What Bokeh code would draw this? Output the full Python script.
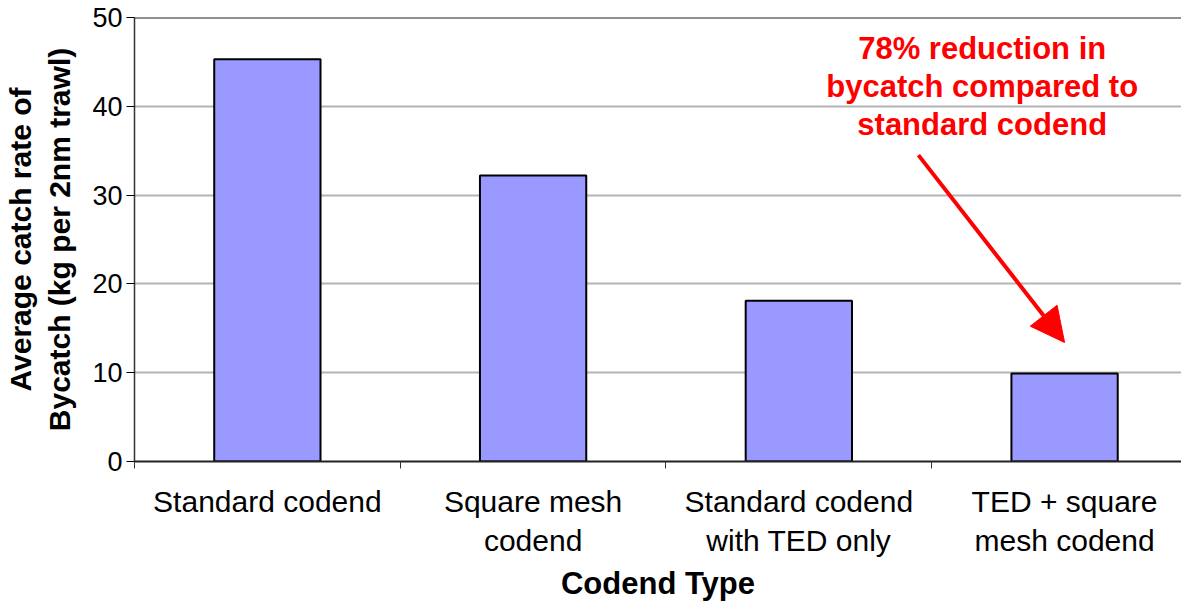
from bokeh.plotting import figure
from bokeh.models import Range1d, FixedTicker, Span, Arrow, NormalHead, ColumnDataSource
from bokeh.core.properties import value
from bokeh.embed import file_html
from bokeh.resources import INLINE

categories = ["Standard codend", "Square mesh\ncodend", "Standard codend\nwith TED only", "TED + square\nmesh codend"]
bycatch = [45.3, 32.2, 18.1, 9.9]
y_ticks = [0, 10, 20, 30, 40, 50]
note_lines = ["78% reduction in", "bycatch compared to", "standard codend"]

FONT = "Liberation Sans"

p = figure(width=1181, height=604, output_backend="svg", toolbar_location=None,
           x_range=Range1d(0, 3.94), y_range=Range1d(0, 50),
           min_border_left=131, min_border_right=0, min_border_top=17, min_border_bottom=0)
p.outline_line_color = None
p.background_fill_color = "white"

xs = [i + 0.5 for i in range(len(categories))]
src = ColumnDataSource(dict(x=xs, top=bycatch))
p.vbar(x="x", top="top", bottom=0, width=0.4, source=src,
       fill_color="#9999FF", line_color="black", line_width=2)

# grid
p.xgrid.visible = False
p.ygrid.ticker = FixedTicker(ticks=y_ticks)
p.ygrid.grid_line_color = "#b4b4b4"
p.ygrid.grid_line_width = 2
p.add_layout(Span(location=50, dimension="width", line_color="#222222", line_width=2))

# y axis
p.yaxis.ticker = FixedTicker(ticks=y_ticks)
p.yaxis.axis_line_color = "#333333"
p.yaxis.axis_line_width = 1.5
p.yaxis.major_tick_out = 8
p.yaxis.major_tick_in = 0
p.yaxis.minor_tick_line_color = None
p.yaxis.major_label_text_font = FONT
p.yaxis.major_label_text_font_size = "27px"
p.yaxis.major_label_text_color = "black"
p.yaxis.major_label_standoff = 4
p.yaxis.axis_label = "Average catch rate of\nBycatch (kg per 2nm trawl)"
p.yaxis.axis_label_text_font = FONT
p.yaxis.axis_label_text_font_style = "bold"
p.yaxis.axis_label_text_font_size = "30px"
p.yaxis.axis_label_text_color = "black"
p.yaxis.axis_label_standoff = 13

# x axis
p.xaxis.ticker = FixedTicker(ticks=xs, minor_ticks=[0, 1, 2, 3, 4])
p.xaxis.major_label_overrides = {x: c for x, c in zip(xs, categories)}
p.xaxis.axis_line_color = "#222222"
p.xaxis.axis_line_width = 2
p.xaxis.major_tick_out = 0
p.xaxis.major_tick_in = 0
p.xaxis.minor_tick_out = 7
p.xaxis.minor_tick_in = 0
p.xaxis.minor_tick_line_color = "#333333"
p.xaxis.major_label_text_font = FONT
p.xaxis.major_label_text_font_size = "30px"
p.xaxis.major_label_text_color = "black"
p.xaxis.major_label_standoff = 16
p.xaxis.axis_label = "Codend Type"
p.xaxis.axis_label_text_font = FONT
p.xaxis.axis_label_text_font_style = "bold"
p.xaxis.axis_label_text_font_size = "31px"
p.xaxis.axis_label_text_color = "black"
p.xaxis.axis_label_standoff = 6

# annotation
note_y = [46.5, 42.2, 38.0]
p.text(x=[3.19] * 3, y=note_y, text=note_lines, text_color="red",
       text_font=value(FONT), text_font_style="bold", text_font_size="31px",
       text_align="center", text_baseline="middle")
p.add_layout(Arrow(x_start=2.95, y_start=34.5, x_end=3.5, y_end=13.4,
                   line_color="red", line_width=4,
                   end=NormalHead(size=34, fill_color="red", line_color="red")))

open("out.html", "w").write(file_html(p, INLINE))
